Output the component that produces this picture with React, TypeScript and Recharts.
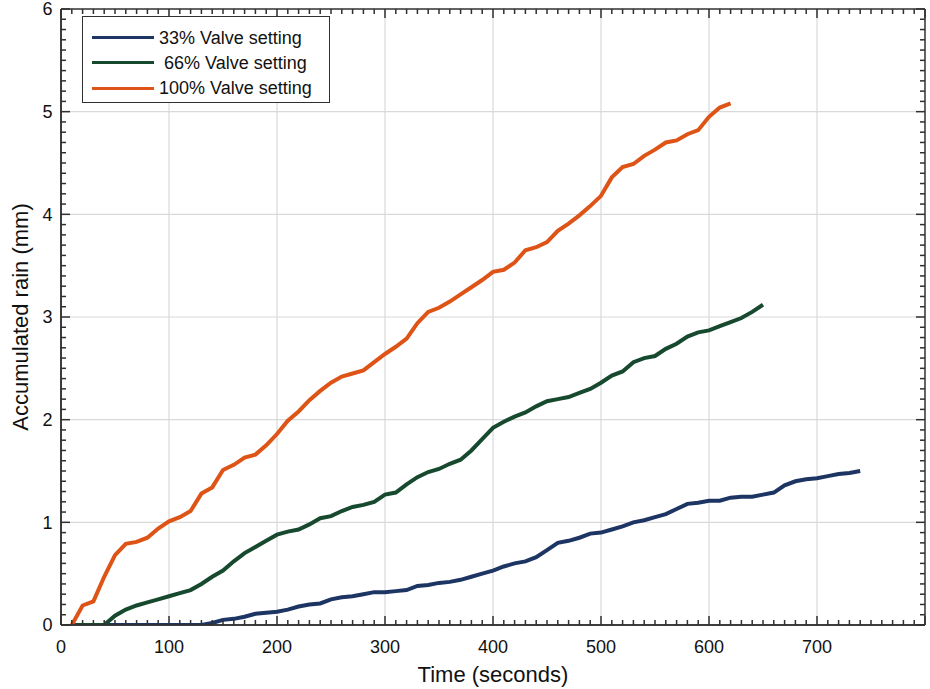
import { LineChart, Line, XAxis, YAxis, CartesianGrid, Legend } from "recharts";

// sample times (s), one reading every 10 seconds
const TIME_S = [
  10, 20, 30, 40, 50, 60, 70, 80, 90, 100,
  110, 120, 130, 140, 150, 160, 170, 180, 190, 200,
  210, 220, 230, 240, 250, 260, 270, 280, 290, 300,
  310, 320, 330, 340, 350, 360, 370, 380, 390, 400,
  410, 420, 430, 440, 450, 460, 470, 480, 490, 500,
  510, 520, 530, 540, 550, 560, 570, 580, 590, 600,
  610, 620, 630, 640, 650, 660, 670, 680, 690, 700,
  710, 720, 730, 740,
];

// accumulated rain (mm)
const VALVE_33 = [
  0, 0, 0, 0, 0, 0, 0, 0, 0, 0,
  0, 0, 0, 0.02, 0.05, 0.06, 0.08, 0.11, 0.12, 0.13,
  0.15, 0.18, 0.2, 0.21, 0.25, 0.27, 0.28, 0.3, 0.32, 0.32,
  0.33, 0.34, 0.38, 0.39, 0.41, 0.42, 0.44, 0.47, 0.5, 0.53,
  0.57, 0.6, 0.62, 0.66, 0.73, 0.8, 0.82, 0.85, 0.89, 0.9,
  0.93, 0.96, 1.0, 1.02, 1.05, 1.08, 1.13, 1.18, 1.19, 1.21,
  1.21, 1.24, 1.25, 1.25, 1.27, 1.29, 1.36, 1.4, 1.42, 1.43,
  1.45, 1.47, 1.48, 1.5,
];

const VALVE_66 = [
  0, 0, 0, 0, 0.09, 0.15, 0.19, 0.22, 0.25, 0.28,
  0.31, 0.34, 0.4, 0.47, 0.53, 0.62, 0.7, 0.76, 0.82, 0.88,
  0.91, 0.93, 0.98, 1.04, 1.06, 1.11, 1.15, 1.17, 1.2, 1.27,
  1.29, 1.37, 1.44, 1.49, 1.52, 1.57, 1.61, 1.7, 1.81, 1.92,
  1.98, 2.03, 2.07, 2.13, 2.18, 2.2, 2.22, 2.26, 2.3, 2.36,
  2.43, 2.47, 2.56, 2.6, 2.62, 2.69, 2.74, 2.81, 2.85, 2.87,
  2.91, 2.95, 2.99, 3.05, 3.12,
];

const VALVE_100 = [
  0, 0.19, 0.23, 0.47, 0.68, 0.79, 0.81, 0.85, 0.94, 1.01,
  1.05, 1.11, 1.28, 1.34, 1.51, 1.56, 1.63, 1.66, 1.75, 1.86,
  1.99, 2.08, 2.19, 2.28, 2.36, 2.42, 2.45, 2.48, 2.56, 2.64,
  2.71, 2.79, 2.94, 3.05, 3.09, 3.15, 3.22, 3.29, 3.36, 3.44,
  3.46, 3.53, 3.65, 3.68, 3.73, 3.84, 3.91, 3.99, 4.08, 4.18,
  4.36, 4.46, 4.49, 4.57, 4.63, 4.7, 4.72, 4.78, 4.82, 4.95,
  5.04, 5.08,
];

const SERIES_NAMES = ["33% Valve setting", " 66% Valve setting", "100% Valve setting"];
const SERIES_COLORS = ["#1d3563", "#17492f", "#de5316"];

const X_LABELS = [0, 100, 200, 300, 400, 500, 600, 700];
const X_GRID = [100, 200, 300, 400, 500, 600, 700];
const Y_LABELS = [0, 1, 2, 3, 4, 5, 6];
const Y_GRID = [1, 2, 3, 4, 5];
const X_MINOR = Array.from({ length: 81 }, (_, i) => i * 10);
const Y_MINOR = Array.from({ length: 61 }, (_, i) => i / 10);

const X_DOMAIN: [number, number] = [0, 800];
const Y_DOMAIN: [number, number] = [0, 6];

const FONT = "'Liberation Sans', Arial, Helvetica, sans-serif";
const FRAME = "#303030";

const CHART_W = 930;
const CHART_H = 689;
const MARGIN = { top: 9, right: 5, bottom: 0, left: 0 };
const PLOT_TOP = MARGIN.top;
const PLOT_RIGHT = CHART_W - MARGIN.right;
const X_TICK_GAP = 15.5;
const Y_TICK_GAP = 8.5;
const MAJOR_LEN = 9;
const MINOR_LEN = 5;

const toPoints = (vals: number[]) => vals.map((v, i) => ({ t: TIME_S[i], v }));

const seriesData = [toPoints(VALVE_33), toPoints(VALVE_66), toPoints(VALVE_100)];

// x tick: inward marks at bottom and top, label only on the labelled majors
function XTick(p: any) {
  const v = p.payload.value;
  const len = v % 100 === 0 ? MAJOR_LEN : MINOR_LEN;
  const axisY = p.y - X_TICK_GAP;
  return (
    <g>
      <line x1={p.x} y1={axisY} x2={p.x} y2={axisY - len} stroke={FRAME} strokeWidth={1.5} />
      <line x1={p.x} y1={PLOT_TOP} x2={p.x} y2={PLOT_TOP + len} stroke={FRAME} strokeWidth={1.5} />
      {X_LABELS.includes(v) && (
        <text x={p.x} y={p.y} dy="0.71em" textAnchor="middle" fontSize={18} fontFamily={FONT} fill="#111">
          {v}
        </text>
      )}
    </g>
  );
}

// y tick: inward marks at left and right
function YTick(p: any) {
  const v = p.payload.value;
  const major = Number.isInteger(v);
  const len = major ? MAJOR_LEN : MINOR_LEN;
  const axisX = p.x + Y_TICK_GAP;
  return (
    <g>
      <line x1={axisX} y1={p.y} x2={axisX + len} y2={p.y} stroke={FRAME} strokeWidth={1.5} />
      <line x1={PLOT_RIGHT - len} y1={p.y} x2={PLOT_RIGHT} y2={p.y} stroke={FRAME} strokeWidth={1.5} />
      {major && Y_LABELS.includes(v) && (
        <text x={p.x} y={p.y} dy="0.355em" textAnchor="end" fontSize={18} fontFamily={FONT} fill="#111">
          {v}
        </text>
      )}
    </g>
  );
}

function LegendBox(props: any) {
  const items = [...(props.payload || [])].sort(
    (a: any, b: any) => SERIES_NAMES.indexOf(a.value) - SERIES_NAMES.indexOf(b.value)
  );
  return (
    <div
      style={{
        border: `1px solid ${FRAME}`,
        background: "#fff",
        width: 248,
        height: 87,
        paddingTop: 8,
        boxSizing: "border-box",
        fontFamily: FONT,
        fontSize: 18,
        color: "#111",
      }}
    >
      {items.map((entry: any) => (
        <div key={entry.value} style={{ display: "flex", alignItems: "center", height: 25.3 }}>
          <span style={{ display: "inline-block", width: 62, height: 3, marginLeft: 9, marginRight: 5, background: entry.color }} />
          <span style={{ whiteSpace: "pre", lineHeight: "20px" }}>{entry.value}</span>
        </div>
      ))}
    </div>
  );
}

export default function App() {
  const labelStyle = { fontSize: 22, fill: "#111", fontFamily: FONT };
  const lineStyle = { stroke: FRAME, strokeWidth: 1.5 };

  return (
    <div style={{ position: "absolute", left: 0, top: 0, background: "#fff" }}>
      <LineChart width={CHART_W} height={CHART_H} margin={MARGIN}>
        <CartesianGrid stroke="#d9d9d9" strokeWidth={1.2} verticalValues={X_GRID} horizontalValues={Y_GRID} />
        {/* box around the plot */}
        <CartesianGrid stroke={FRAME} strokeWidth={1.5} verticalValues={X_DOMAIN} horizontalValues={Y_DOMAIN} />

        <XAxis dataKey="t" type="number" orientation="bottom" height={64} domain={X_DOMAIN} allowDataOverflow
          ticks={X_MINOR} interval={0} tickSize={0} tickMargin={X_TICK_GAP} tick={XTick}
          axisLine={lineStyle} tickLine={false}
          label={{ value: "Time (seconds)", position: "insideBottom", offset: 7, style: labelStyle }} />
        <YAxis type="number" orientation="left" width={61} domain={Y_DOMAIN} allowDataOverflow
          ticks={Y_MINOR} interval={0} tickSize={0} tickMargin={Y_TICK_GAP} tick={YTick}
          axisLine={lineStyle} tickLine={false}
          label={{ value: "Accumulated rain (mm)", angle: -90, position: "center", dx: -10, style: labelStyle }} />

        {seriesData.map((d, i) => (
          <Line
            key={SERIES_NAMES[i]}
            data={d}
            dataKey="v"
            name={SERIES_NAMES[i]}
            type="linear"
            stroke={SERIES_COLORS[i]}
            strokeWidth={4}
            dot={false}
            activeDot={false}
            isAnimationActive={false}
          />
        ))}

        <Legend
          layout="horizontal"
          align="center"
          verticalAlign="middle"
          itemSorter={(item: any) => SERIES_NAMES.indexOf(item.value)}
          content={<LegendBox />}
          wrapperStyle={{ left: 82, top: 16, width: 248, height: 87 }}
        />
      </LineChart>
    </div>
  );
}
